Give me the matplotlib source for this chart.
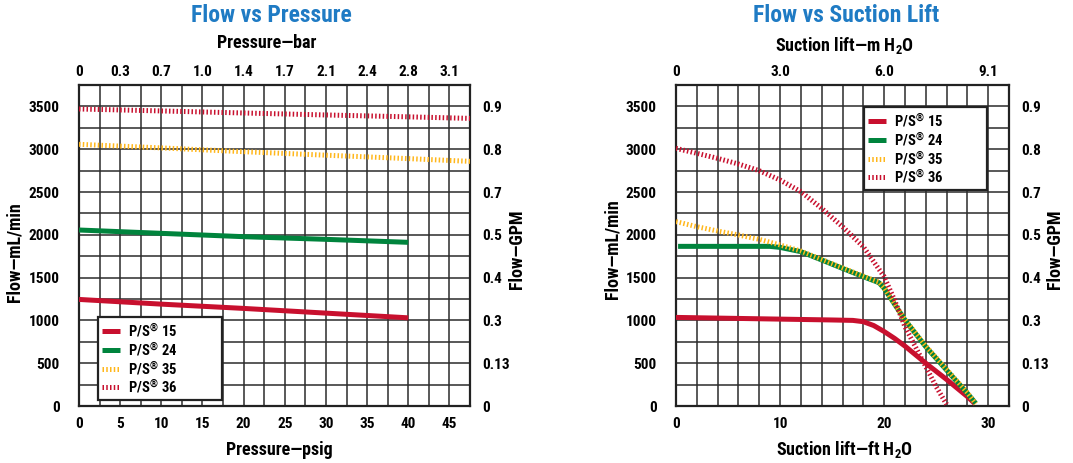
import matplotlib
matplotlib.use("Agg")
import matplotlib.pyplot as plt
from matplotlib.lines import Line2D
from matplotlib import font_manager
import numpy as np

_avail = {f.name for f in font_manager.fontManager.ttflist}
FONT_NAME = next((n for n in ['Liberation Sans Narrow', 'Roboto Condensed', 'Roboto', 'DejaVu Sans'] if n in _avail), 'DejaVu Sans')
plt.rcParams['font.family'] = [FONT_NAME, 'DejaVu Sans']
plt.rcParams['font.weight'] = 'bold'
plt.rcParams['mathtext.fontset'] = 'custom'
plt.rcParams['mathtext.rm'] = FONT_NAME + ':bold'
plt.rcParams['mathtext.bf'] = FONT_NAME + ':bold'
plt.rcParams['mathtext.it'] = FONT_NAME + ':bold'

# ---------------- data ----------------
series_names = [r'$\mathbf{P/S^{®}}$ 15', r'$\mathbf{P/S^{®}}$ 24', r'$\mathbf{P/S^{®}}$ 35', r'$\mathbf{P/S^{®}}$ 36']

# Flow vs Pressure (psig -> mL/min)
p15_x = [0, 10, 20, 30, 40]
p15_y = [1245, 1190, 1140, 1085, 1030]
p24_x = [0, 10, 20, 30, 40]
p24_y = [2056, 2017, 1978, 1947, 1912]
p35_x = [0, 10, 20, 30, 40, 47.5]
p35_y = [3057, 3015, 2971, 2930, 2890, 2858]
p36_x = [0, 10, 20, 30, 40, 47.5]
p36_y = [3470, 3447, 3423, 3400, 3378, 3360]

# Flow vs Suction lift (ft H2O -> mL/min)
s15_x = [0, 5, 10, 15, 17, 18, 19, 20, 21, 22, 24, 26, 28, 28.7]
s15_y = [1035, 1025, 1015, 1005, 1000, 985, 940, 870, 790, 700, 500, 310, 110, 30]
s24_x = [0.2, 5, 9, 10, 12, 14, 16, 18, 19.5, 20, 22, 24, 26, 28, 28.8]
s24_y = [1865, 1865, 1865, 1853, 1803, 1706, 1608, 1511, 1441, 1375, 1005, 693, 420, 148, 31]
s35_x = [0, 2, 4, 6, 8, 10, 12, 14, 16, 18, 19.5, 20, 22, 24, 26, 28, 28.8]
s35_y = [2154, 2095, 2044, 1998, 1947, 1881, 1810, 1712, 1614, 1517, 1447, 1380, 1010, 700, 428, 155, 25]
s36_x = [0, 2, 4, 6, 8, 10, 12, 14, 16, 18, 20, 21, 22, 24, 25, 26]
s36_y = [3010, 2952, 2893, 2827, 2749, 2640, 2504, 2309, 2095, 1861, 1511, 1238, 927, 460, 226, 20]

flow_ticks = [0, 500, 1000, 1500, 2000, 2500, 3000, 3500]
gpm_labels = ['0', '0.13', '0.3', '0.4', '0.5', '0.7', '0.8', '0.9']
psi_ticks = [0, 5, 10, 15, 20, 25, 30, 35, 40, 45]
bar_labels = ['0', '0.3', '0.7', '1.0', '1.4', '1.7', '2.1', '2.4', '2.8', '3.1']
ft_ticks = [0, 10, 20, 30]
m_labels = ['0', '3.0', '6.0', '9.1']

RED = '#C8102E'
GREEN = '#00843D'
YELLOW = '#FFB71B'
BLUE = '#1F7BC4'

styles = [
    dict(color=RED, lw=3.6, ls='-', solid_capstyle='butt'),
    dict(color=GREEN, lw=3.6, ls='-', solid_capstyle='butt'),
    dict(color=YELLOW, lw=3.6, ls=(0, (0.3, 0.45)), dash_capstyle='butt'),
    dict(color=RED, lw=3.6, ls=(0, (0.3, 0.45)), dash_capstyle='butt'),
]

W, H = 1073, 463
fig = plt.figure(figsize=(W / 100, H / 100), dpi=100)

TICK_FS = 11
LAB_FS = 13
LEG_FS = 10.5


def setup(ax, xmax, xstep, xticks, top_labels, ymax=3750, ystep=250):
    ax.set_xlim(0, xmax)
    ax.set_ylim(0, ymax)
    for v in np.arange(0, xmax + 1e-6, xstep):
        ax.axvline(v, color='#2b2b2b', lw=1.1, zorder=1)
    for v in np.arange(0, ymax + 1e-6, ystep):
        ax.axhline(v, color='#2b2b2b', lw=1.1, zorder=1)
    for s in ax.spines.values():
        s.set_linewidth(1.6)
        s.set_color('#222222')
    ax.set_xticks(xticks)
    ax.set_xticklabels([str(t) for t in xticks])
    ax.set_yticks(flow_ticks)
    ax.set_yticklabels([str(t) for t in flow_ticks])
    ax.tick_params(axis='both', length=0, labelsize=TICK_FS)
    ax.tick_params(axis='y', pad=14)
    ax.tick_params(axis='x', pad=8)
    axr = ax.twinx()
    axr.set_ylim(0, ymax)
    axr.set_yticks(flow_ticks)
    axr.set_yticklabels(gpm_labels)
    axr.tick_params(axis='y', length=0, labelsize=TICK_FS, pad=9)
    axt = ax.twiny()
    axt.set_xlim(0, xmax)
    axt.set_xticks(xticks)
    axt.set_xticklabels(top_labels)
    axt.tick_params(axis='x', length=0, labelsize=TICK_FS, pad=4)
    for a in (axr, axt):
        for s in a.spines.values():
            s.set_visible(False)
    return axr, axt


def legend(ax, x0, y0, x1, y1, ax_px):
    # box given in figure pixels, converted to axes fraction
    ax0, ay_top, ax1, ay_bot = ax_px
    bx = (x0 - ax0) / (ax1 - ax0)
    bw = (x1 - x0) / (ax1 - ax0)
    by = (ay_bot - y1) / (ay_bot - ay_top)
    bh = (y1 - y0) / (ay_bot - ay_top)
    handles = [Line2D([], [], **st) for st in styles]
    leg = ax.legend(handles, series_names, loc='upper left', bbox_to_anchor=(bx, by + bh, bw, 0),
                    mode='expand', frameon=True, fancybox=False, edgecolor='#222222', framealpha=1,
                    fontsize=LEG_FS, handlelength=1.2, handletextpad=0.55, labelspacing=0.05,
                    borderpad=0.3, borderaxespad=0)
    leg.get_frame().set_linewidth(1.6)
    leg.set_zorder(5)
    return leg


# ---------- left chart ----------
L_PX = (79, 85, 470, 406)
axL = fig.add_axes([79 / W, 1 - 406 / H, (470 - 79) / W, (406 - 85) / H])
setup(axL, 47.5, 2.5, psi_ticks, bar_labels)
for (xs, ys), st in zip([(p15_x, p15_y), (p24_x, p24_y), (p35_x, p35_y), (p36_x, p36_y)], styles):
    axL.plot(xs, ys, zorder=3, **st)

fig.text(271 / W, 1 - 16 / H, 'Flow vs Pressure', color=BLUE, fontsize=17, ha='center', va='center', weight='bold')
fig.text(267 / W, 1 - 43 / H, 'Pressure—bar', fontsize=LAB_FS, ha='center', va='center', weight='bold')
fig.text(279 / W, 1 - 450 / H, 'Pressure—psig', fontsize=LAB_FS, ha='center', va='center', weight='bold')
fig.text(15 / W, 1 - 252 / H, 'Flow—mL/min', fontsize=LAB_FS, ha='center', va='center', rotation=90, weight='bold')
fig.text(517 / W, 1 - 249 / H, 'Flow—GPM', fontsize=LAB_FS, ha='center', va='center', rotation=90, weight='bold')

legend(axL, 98, 317, 222, 398, L_PX)

# ---------- right chart ----------
R_PX = (676, 85, 1009, 406)
axR = fig.add_axes([676 / W, 1 - 406 / H, (1009 - 676) / W, (406 - 85) / H])
setup(axR, 32, 2, ft_ticks, m_labels)
for (xs, ys), st in zip([(s15_x, s15_y), (s24_x, s24_y), (s35_x, s35_y), (s36_x, s36_y)], styles):
    axR.plot(xs, ys, zorder=3, **st)

fig.text(846 / W, 1 - 16 / H, 'Flow vs Suction Lift', color=BLUE, fontsize=17, ha='center', va='center', weight='bold')
fig.text(845 / W, 1 - 45 / H, r'Suction lift—m H$_{2}$O', fontsize=LAB_FS, ha='center', va='center', weight='bold')
fig.text(845 / W, 1 - 450 / H, r'Suction lift—ft H$_{2}$O', fontsize=LAB_FS, ha='center', va='center', weight='bold')
fig.text(613 / W, 1 - 249 / H, 'Flow—mL/min', fontsize=LAB_FS, ha='center', va='center', rotation=90, weight='bold')
fig.text(1055 / W, 1 - 249 / H, 'Flow—GPM', fontsize=LAB_FS, ha='center', va='center', rotation=90, weight='bold')

legend(axR, 864, 107, 987, 191, R_PX)

fig.savefig('out.png', dpi=100)
